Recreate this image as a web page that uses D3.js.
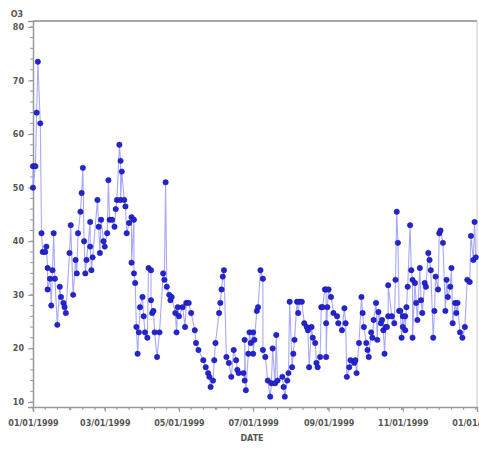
<!DOCTYPE html>
<html>
<head>
<meta charset="utf-8">
<script src="https://cdn.jsdelivr.net/npm/d3@7"></script>
<style>
  body { margin: 0; background: #fff; }
  text { font-family: "DejaVu Sans", sans-serif; }
</style>
</head>
<body>
<script>
// day offsets from 01/01/1999 and the readings for each day
var days = [0,0,2,3,4,6,7,8,10,11,12,12,14,15,16,17,18,20,22,23,25,26,27,30,31,33,35,36,37,39,40,41,42,43,44,47,47,48,49,
  53,54,55,56,58,59,61,62,63,65,67,68,69,71,72,72,73,75,76,77,79,81,81,83,83,84,85,86,87,88,90,91,92,94,95,97,97,98,99,100,
  102,104,107,108,109,110,112,113,114,117,118,119,120,123,125,126,128,130,133,134,136,140,142,144,145,146,148,149,150,153,154,155,156,157,
  159,161,163,165,167,168,169,173,174,174,175,177,178,179,181,181,182,184,185,187,189,189,191,193,195,196,197,199,200,201,205,206,207,209,210,
  211,213,214,215,217,218,219,221,223,225,226,227,229,230,232,233,234,236,237,238,240,241,241,241,242,243,245,247,250,251,254,256,257,258,260,
  261,264,265,266,268,270,271,272,274,275,276,278,279,280,282,283,284,286,287,288,289,290,291,292,292,295,297,298,299,300,301,302,303,304,304,
  306,306,307,308,310,311,312,312,314,315,316,318,319,320,322,323,325,326,327,329,330,331,333,334,335,337,339,340,341,343,344,345,347,348,349,
  351,353,355,357,359,360,362,363,364];
var values = [54,50,54,64,73.5,62,41.5,38,38,39,35,31,33,28,34.6,41.5,33,24.4,31.5,29.6,28.5,27.7,26.6,37.8,43,30,36.5,34,41.5,45.5,49,53.7,40,34,36.5,43.6,39,34.6,37,
  47.7,42.7,37.8,44,40,39,41.5,51.4,44,44,42.7,46,47.7,58,55,47.7,53,47.7,46.5,41.5,43.4,44.5,36,44,34,32.2,24,19,23,27.7,29.6,26,23,22,35,34.6,29,26.6,27,23,
  18.4,23,34,32.8,51,31.5,30,29,29.6,26.6,23,27.7,26,27.7,24,28.5,28.5,26.6,23.4,21,19.7,17.8,16.5,15.4,14.7,12.8,14,17.8,21,26.6,28.5,31,33.4,34.6,
  18.4,17.3,14.7,19.7,17.8,16,15.4,15.4,14,21.6,12.2,19,23,21,23,19,21.6,27,27.7,34.6,33,19.7,18.4,14,11,13.5,20,13.5,22.5,14,14.7,12.8,11,14,15.4,
  28.7,16.5,19,21.6,28.7,26.6,28.7,28.7,24.7,24,23.4,16.5,24,22,21,17.3,16.5,18.4,27.7,27.7,31,31,24.7,18.4,27.7,31,29.6,26.6,26,24.7,23.4,27.5,24.7,14.7,16.5,
  17.8,17.3,17.8,15.4,21,29.6,26.6,24,21,19.7,18.4,23,22,25.3,28.5,21.6,26.8,24.7,25.3,23.4,19,24,24,26,31.8,26,24.7,32.8,45.5,39.7,27,27,22,26,24,
  26,23.4,27.7,31.5,43,34.6,32.8,22,32.2,28.5,25.3,35,29,26.6,32.2,31.5,37.8,36.5,34.6,22,27,33.4,31,41.5,42,39.7,27,32.8,29.6,31.5,35,24.7,28.5,26.6,28.5,
  23,22,24,32.8,32.4,41,36.5,43.6,37];

var yTicks = [10, 20, 30, 40, 50, 60, 70, 80];
var yLabel = "O3";
var xLabel = "DATE";

var W = 479, H = 449;
var margin = {left: 33, right: 477, top: 21, bottom: 407};

var start = new Date(Date.UTC(1999, 0, 1));
var end = new Date(Date.UTC(2000, 0, 1));
var data = days.map(function(d, i) {
  return { date: new Date(Date.UTC(1999, 0, 1 + d)), v: values[i] };
});

var x = d3.scaleUtc()
  .domain([start, end])
  .range([margin.left, margin.right]);
var y = d3.scaleLinear()
  .domain([9.07, 81.1])
  .range([margin.bottom, margin.top]);

var svg = d3.select("body").append("svg")
  .attr("width", W)
  .attr("height", H)
  .style("background", "#fff");

// frame top and right
svg.append("line").attr("x1", margin.left).attr("x2", margin.right)
  .attr("y1", margin.top).attr("y2", margin.top)
  .attr("stroke", "#a8a8a8").attr("stroke-width", 2);
svg.append("line").attr("x1", margin.right).attr("x2", margin.right)
  .attr("y1", margin.top).attr("y2", margin.bottom)
  .attr("stroke", "#c8c8c8").attr("stroke-width", 1);

// minor ticks
var yMinor = d3.range(10, 82, 2);
svg.append("g").selectAll("line").data(yMinor).enter().append("line")
  .attr("x1", margin.left - 3).attr("x2", margin.left)
  .attr("y1", function(d) { return y(d); }).attr("y2", function(d) { return y(d); })
  .attr("stroke", "#999");
var xMinor = d3.utcDay.every(10).range(start, end);
svg.append("g").selectAll("line").data(xMinor).enter().append("line")
  .attr("x1", function(d) { return x(d); }).attr("x2", function(d) { return x(d); })
  .attr("y1", margin.bottom).attr("y2", margin.bottom + 3)
  .attr("stroke", "#999");

var yAxis = d3.axisLeft(y).tickValues(yTicks).tickSize(5).tickPadding(4);
var gy = svg.append("g").attr("transform", "translate(" + margin.left + ",0)").call(yAxis);

var xAxis = d3.axisBottom(x)
  .ticks(d3.utcMonth.every(2))
  .tickFormat(d3.utcFormat("%m/%d/%Y"))
  .tickSize(5).tickPadding(8);
var gx = svg.append("g").attr("transform", "translate(0," + margin.bottom + ")").call(xAxis);

[gx, gy].forEach(function(g) {
  g.select(".domain").attr("stroke", "#999").attr("stroke-width", 1.5);
  g.selectAll(".tick line").attr("stroke", "#999");
  g.selectAll("text").attr("fill", "#555").style("font-size", "8px").style("font-weight", "bold")
    .style("font-family", "DejaVu Sans, sans-serif");
});

svg.append("text").attr("x", 17).attr("y", 17).attr("text-anchor", "middle")
  .attr("fill", "#555").style("font-size", "8px").style("font-weight", "bold").text(yLabel);
svg.append("text").attr("x", 252).attr("y", 441).attr("text-anchor", "middle")
  .attr("fill", "#555").style("font-size", "8px").style("font-weight", "bold").text(xLabel);

var line = d3.line()
  .x(function(d) { return x(d.date); })
  .y(function(d) { return y(d.v); });

svg.append("path").datum(data)
  .attr("d", line)
  .attr("fill", "none")
  .attr("stroke", "#9a9af7")
  .attr("stroke-width", 1.1)
  .attr("stroke-opacity", 0.85);

svg.append("g").selectAll("circle").data(data).enter().append("circle")
  .attr("cx", function(d) { return x(d.date); })
  .attr("cy", function(d) { return y(d.v); })
  .attr("r", 2.7)
  .attr("fill", "#2424d4")
  .attr("stroke", "#14148c")
  .attr("stroke-width", 0.5);
</script>
</body>
</html>
